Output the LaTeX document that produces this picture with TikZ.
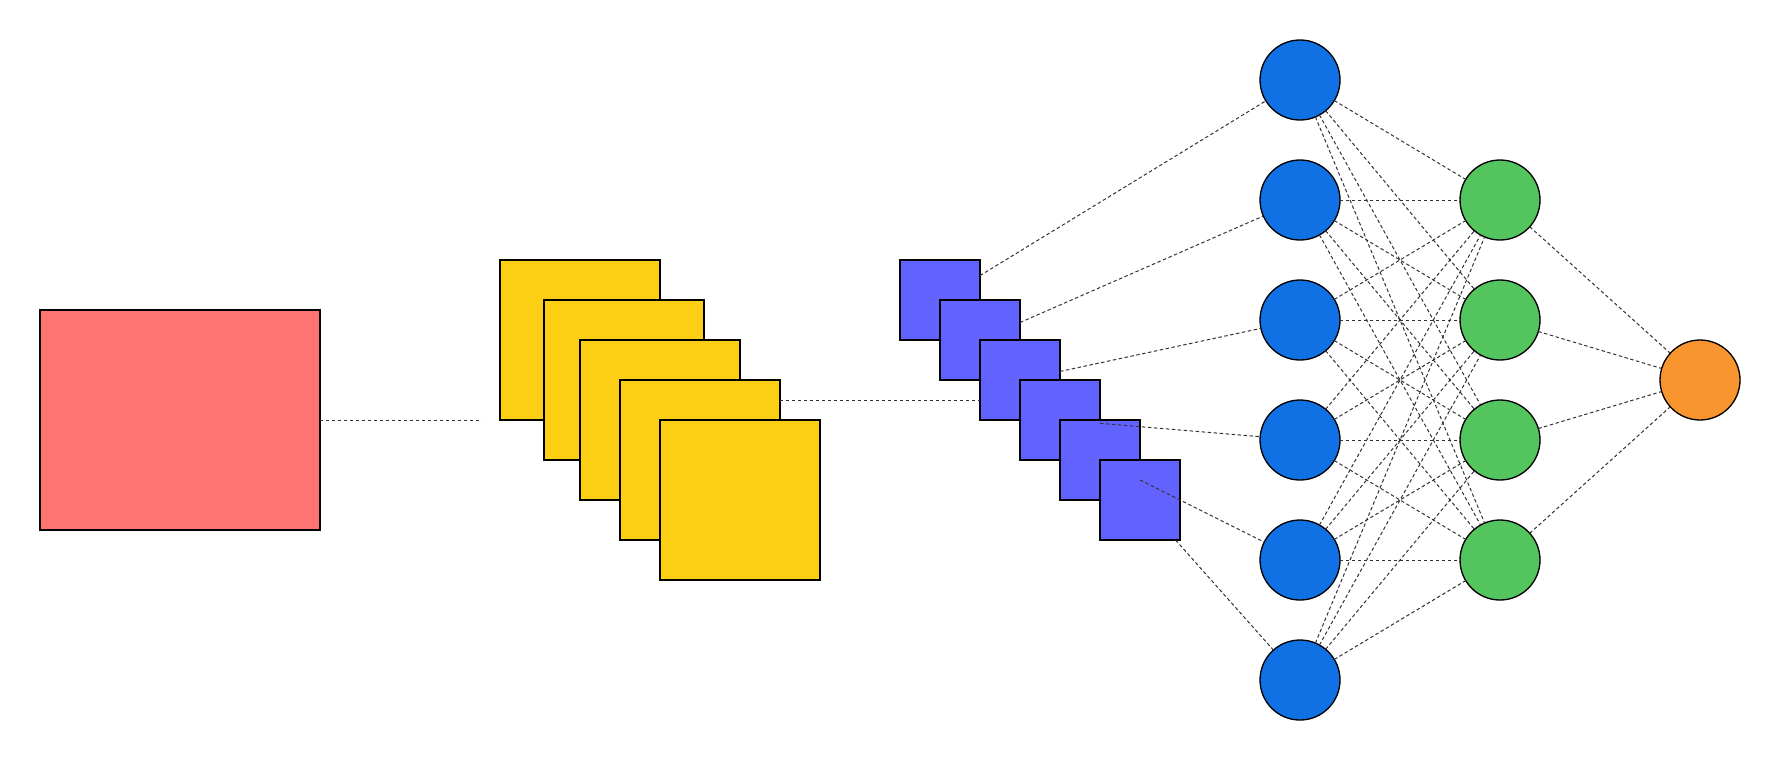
\documentclass[tikz,border=0pt]{standalone}
\usetikzlibrary{calc}
\definecolor{cred}{HTML}{FF7373}
\definecolor{cyel}{HTML}{FCCF14}
\definecolor{cpur}{HTML}{6262FF}
\definecolor{cblue}{HTML}{1071E5}
\definecolor{cgreen}{HTML}{54C45E}
\definecolor{corange}{HTML}{F9952F}
\definecolor{cline}{HTML}{333333}
\begin{document}
\begin{tikzpicture}[x=0.75pt,y=-0.75pt,
  box/.style={draw=black,line width=1pt,inner sep=0pt,outer sep=0pt,anchor=north west},
  ysq/.style={box,fill=cyel,minimum width=120pt,minimum height=120pt},
  bsq/.style={box,fill=cpur,minimum width=60pt,minimum height=60pt},
  neuron/.style={circle,draw=black,line width=1pt,inner sep=0pt,outer sep=0pt,minimum size=60pt},
  conn/.style={draw=cline,line width=0.75pt,dash pattern=on 2.6pt off 1.9pt}]
\useasboundingbox (0,0) rectangle (1780,760);
% input
\node[box,fill=cred,minimum width=210pt,minimum height=165pt] (red) at (40,310) {};
% yellow feature maps
\node[ysq] (y1) at (500,260) {};
\node[ysq] (y2) at (544,300) {};
\node[ysq] (y3) at (580,340) {};
\node[ysq] (y4) at (620,380) {};
\node[ysq] (y5) at (660,420) {};
% blue feature maps
\node[bsq] (b1) at (900,260) {};
\node[bsq] (b2) at (940,300) {};
\node[bsq] (b3) at (980,340) {};
\node[bsq] (b4) at (1020,380) {};
\node[bsq] (b5) at (1060,420) {};
\node[bsq] (b6) at (1100,460) {};
% hidden layer 1
\foreach \i/\yy in {1/80,2/200,3/320,4/440,5/560,6/680}
  \node[neuron,fill=cblue] (h\i) at (1300,\yy) {};
% hidden layer 2
\foreach \j/\yy in {1/200,2/320,3/440,4/560}
  \node[neuron,fill=cgreen] (g\j) at (1500,\yy) {};
% output
\node[neuron,fill=corange] (o) at (1700,380) {};
% connectors
\coordinate (redend) at (482,420);
\draw[conn] (red.east) -- (redend);
\coordinate (ya) at (780,400);
\coordinate (yb) at (980,400);
\draw[conn] (ya) -- (yb);
\foreach \i in {1,...,6}
  \draw[conn] (b\i) -- (h\i);
\foreach \i in {1,...,6}
  \foreach \j in {1,...,4}
    \draw[conn] (h\i) -- (g\j);
\foreach \j in {1,...,4}
  \draw[conn] (g\j) -- (o);
\end{tikzpicture}
\end{document}
